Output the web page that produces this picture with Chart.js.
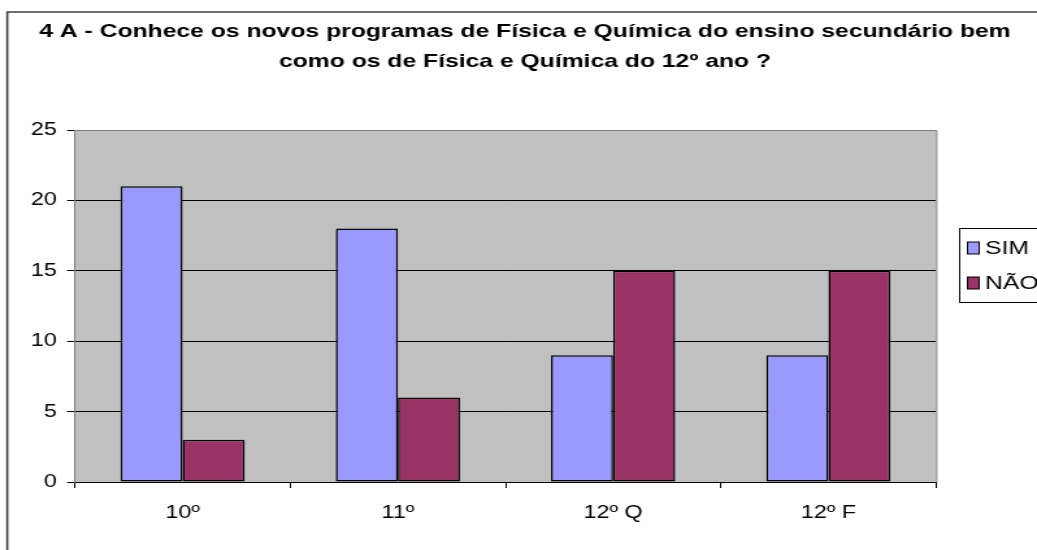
<!DOCTYPE html>
<html>
<head>
<meta charset="utf-8">
<script src="https://cdn.jsdelivr.net/npm/chart.js@4/dist/chart.umd.min.js"></script>
<style>
  html, body { margin: 0; padding: 0; background: #fff; overflow: hidden; }
</style>
</head>
<body>
<!-- o gráfico é desenhado a 798px e esticado na horizontal -->
<canvas id="grafico" width="798" height="550" style="display:block;width:1037px;height:550px"></canvas>
<script>
// Dados do gráfico
const anos = ['10º', '11º', '12º Q', '12º F'];
const respostasSim = [21, 18, 9, 9];
const respostasNao = [3, 6, 15, 15];
const ticksY = [0, 5, 10, 15, 20, 25];

const tituloLinhas = [
  '4 A - Conhece os novos programas de Física e Química do ensino secundário bem',
  'como os de Física e Química do 12º ano ?'
];

const fonte = 'Arial, "Liberation Sans", sans-serif';

// Fundo cinzento da área do gráfico, título, moldura e legenda
const desenhoExtra = {
  id: 'desenhoExtra',
  beforeDraw(chart) {
    const { ctx, chartArea: a } = chart;
    ctx.save();
    ctx.fillStyle = '#fff';
    ctx.fillRect(0, 0, chart.width, chart.height);
    ctx.fillStyle = '#C0C0C0';
    ctx.fillRect(a.left, a.top, a.right - a.left, a.bottom - a.top);
    ctx.restore();
  },
  afterDraw(chart) {
    const { ctx, chartArea: a } = chart;
    ctx.save();

    // moldura cinzenta em cima e à direita
    ctx.strokeStyle = '#808080';
    ctx.lineWidth = 1;
    ctx.beginPath();
    ctx.moveTo(a.left, a.top + 0.5);
    ctx.lineTo(a.right + 0.5, a.top + 0.5);
    ctx.lineTo(a.right + 0.5, a.bottom);
    ctx.stroke();

    // contorno exterior do objeto gráfico
    ctx.strokeStyle = '#404040';
    ctx.lineWidth = 1.6;
    ctx.beginPath();
    ctx.moveTo(5.6, chart.height + 5);
    ctx.lineTo(5.6, 12);
    ctx.lineTo(chart.width + 5, 12);
    ctx.stroke();

    // título
    ctx.fillStyle = '#000';
    ctx.font = 'bold 19px ' + fonte;
    ctx.textAlign = 'center';
    ctx.textBaseline = 'alphabetic';
    ctx.fillText(tituloLinhas[0], 404, 37);
    ctx.fillText(tituloLinhas[1], 404, 67);

    // legenda
    ctx.strokeStyle = '#000';
    ctx.lineWidth = 1;
    ctx.strokeRect(738.5, 228.5, 120, 74);
    ctx.font = '19px ' + fonte;
    ctx.textAlign = 'left';
    const baseLinhas = [254, 289];
    chart.data.datasets.forEach((ds, i) => {
      const b = baseLinhas[i];
      ctx.fillStyle = ds.backgroundColor;
      ctx.fillRect(744.5, b - 12, 9, 12);
      ctx.lineWidth = 1;
      ctx.strokeRect(744.5, b - 12, 9, 12);
      ctx.fillStyle = '#000';
      ctx.fillText(ds.label, 758, b);
    });

    ctx.restore();
  }
};

new Chart(document.getElementById('grafico'), {
  type: 'bar',
  data: {
    labels: anos,
    datasets: [
      {
        label: 'SIM',
        data: respostasSim,
        backgroundColor: '#9999FF',
        borderColor: '#000',
        borderWidth: 1.5,
        borderSkipped: false
      },
      {
        label: 'NÃO',
        data: respostasNao,
        backgroundColor: '#993366',
        borderColor: '#000',
        borderWidth: 1.5,
        borderSkipped: false
      }
    ]
  },
  options: {
    responsive: false,
    animation: false,
    devicePixelRatio: 1,
    categoryPercentage: 0.577,
    barPercentage: 1.0,
    layout: { padding: { top: 130, right: 77.7, left: 0, bottom: 0 } },
    plugins: {
      legend: { display: false },
      title: { display: false },
      tooltip: { enabled: false }
    },
    scales: {
      x: {
        offset: true,
        grid: {
          offset: true,
          drawOnChartArea: false,
          color: '#000',
          tickLength: 6
        },
        border: { color: '#000', width: 1 },
        ticks: {
          color: '#000',
          font: { family: fonte, size: 18 },
          padding: 14,
          maxRotation: 0
        },
        afterFit(s) { s.height = 68; }
      },
      y: {
        min: 0,
        max: 25,
        afterBuildTicks(s) { s.ticks = ticksY.map(v => ({ value: v })); },
        grid: {
          color: '#000',
          lineWidth: 1,
          tickLength: 6
        },
        border: { color: '#808080', width: 1 },
        ticks: {
          color: '#000',
          font: { family: fonte, size: 18 },
          padding: 8
        },
        afterFit(s) { s.width = 57.7; }
      }
    }
  },
  plugins: [desenhoExtra]
});
</script>
</body>
</html>
